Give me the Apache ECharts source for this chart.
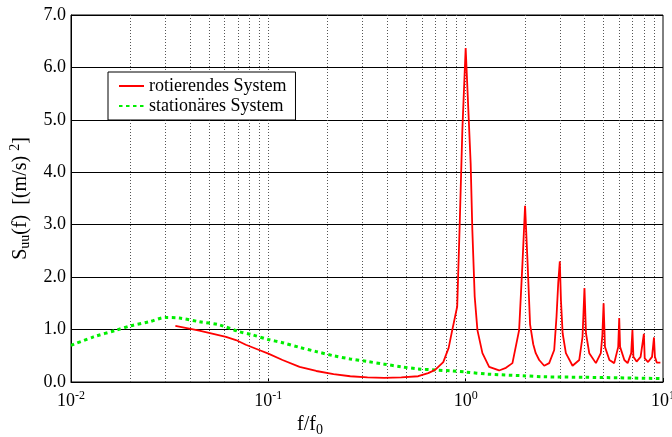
<!DOCTYPE html>
<html>
<head>
<meta charset="utf-8">
<script src="https://cdn.jsdelivr.net/npm/echarts@6.0.0/dist/echarts.min.js"></script>
<style>
  html, body { margin: 0; padding: 0; background: #fff; }
  #chart { width: 672px; height: 437px; }
</style>
</head>
<body>
<div id="chart"></div>
<script>
// rotierendes System (red)
const rotX = [0.0338, 0.0447, 0.061, 0.0685, 0.0769, 0.0898, 0.1, 0.118, 0.144, 0.175, 0.214, 0.26, 0.318, 0.387,
  0.472, 0.575, 0.646, 0.70, 0.77, 0.82, 0.855, 0.906, 0.931, 0.962, 1.0, 1.06, 1.081, 1.111, 1.147, 1.216, 1.315,
  1.477, 1.6, 1.726, 1.866, 1.94, 2.0, 2.06, 2.12, 2.2, 2.265, 2.358, 2.5, 2.65, 2.81, 2.887, 2.944, 3.0, 3.04, 3.1,
  3.22, 3.48, 3.764, 3.91, 4.0, 4.07, 4.23, 4.57, 4.84, 4.93, 5.0, 5.08, 5.35, 5.66, 5.93, 6.0, 6.06, 6.37, 6.62,
  6.9, 7.0, 7.08, 7.35, 7.7, 8.0, 8.08, 8.4, 8.8, 9.0, 9.1, 9.3, 9.7]
const rotY = [1.07, 0.98, 0.86, 0.80, 0.71, 0.61, 0.54, 0.42, 0.29, 0.21, 0.15, 0.11, 0.09, 0.08,
  0.09, 0.11, 0.17, 0.23, 0.38, 0.65, 0.99, 1.44, 2.9, 4.8, 6.37, 4.17, 2.9, 1.63, 0.99, 0.55, 0.29,
  0.22, 0.27, 0.36, 0.99, 2.26, 3.36, 2.26, 1.1, 0.72, 0.55, 0.42, 0.31, 0.36, 0.61, 1.25, 1.88, 2.30, 1.56, 0.93,
  0.55, 0.31, 0.42, 0.86, 1.79, 0.93, 0.55, 0.36, 0.55, 0.9, 1.50, 0.67, 0.42, 0.36, 0.67, 1.22, 0.67, 0.42, 0.36,
  0.55, 0.99, 0.48, 0.39, 0.48, 0.92, 0.45, 0.38, 0.48, 0.85, 0.48, 0.37, 0.37]

// stationaeres System (green)
const staX = [0.01, 0.013, 0.017, 0.02, 0.025, 0.03, 0.0355, 0.0447, 0.0564, 0.0712, 0.083, 0.1, 0.118, 0.144,
  0.175, 0.214, 0.26, 0.318, 0.387, 0.472, 0.575, 0.70, 0.853, 1.0, 1.3, 1.94, 2.5, 4, 6, 10]
const staY = [0.70, 0.86, 0.99, 1.07, 1.15, 1.23, 1.22, 1.15, 1.09, 0.96, 0.90, 0.81, 0.75, 0.66,
  0.58, 0.50, 0.44, 0.39, 0.34, 0.29, 0.25, 0.23, 0.21, 0.19, 0.15, 0.12, 0.10, 0.09, 0.08, 0.065]

// dotted vertical raster lines
const gridX = [0.02, 0.03, 0.04, 0.05, 0.06, 0.07, 0.08, 0.09, 0.1,
  0.2, 0.3, 0.4, 0.5, 0.6, 0.7, 0.8, 0.9, 1,
  2, 3, 4, 5, 6, 7, 8, 9]

const font = 'Liberation Serif'

let chart = echarts.init(document.getElementById('chart'))
chart.setOption({
  animation: false,
  backgroundColor: '#fff',
  textStyle: { fontFamily: font, color: '#000' },
  grid: {
    left: 71, right: 9, top: 15, bottom: 55,
    show: true, borderColor: '#000', borderWidth: 1,
    outerBoundsMode: 'none'
  },
  legend: {
    left: 108, top: 72,
    orient: 'vertical',
    backgroundColor: '#fff',
    borderColor: '#000', borderWidth: 1,
    padding: [5, 9, 5, 10],
    itemWidth: 25, itemHeight: 14, itemGap: 2, itemTextGap: 12,
    itemStyle: { opacity: 0 },
    textStyle: { fontFamily: font, fontSize: 18, color: '#000', lineHeight: 18 },
    data: ['rotierendes System', 'stationäres System']
  },
  xAxis: {
    type: 'log', logBase: 10, min: 0.01, max: 10,
    name: '{m|f/f}{s|0}',
    nameLocation: 'middle', nameGap: 27,
    nameTextStyle: {
      padding: [0, 114, 0, 0],
      rich: {
        m: { fontFamily: font, fontSize: 20, color: '#000', lineHeight: 24 },
        s: { fontFamily: font, fontSize: 14, color: '#000', lineHeight: 4, verticalAlign: 'bottom' }
      }
    },
    axisLine: { lineStyle: { color: '#000', width: 1 } },
    axisTick: { show: true, inside: true, length: 4, lineStyle: { color: '#000' } },
    splitLine: { show: false },
    axisLabel: {
      margin: 8,
      formatter: v => '{b|10}{s|' + Math.round(Math.log10(v)) + '}',
      rich: {
        b: { fontFamily: font, fontSize: 18, color: '#000', lineHeight: 22 },
        s: { fontFamily: font, fontSize: 12, color: '#000', lineHeight: 6, verticalAlign: 'top' }
      }
    }
  },
  yAxis: {
    type: 'value', min: 0, max: 7, interval: 1,
    name: '{m|S}{s|uu}{m|(f)  [(m/s) }{p|2}{m|]}',
    nameLocation: 'middle', nameGap: 30,
    nameTextStyle: {
      rich: {
        m: { fontFamily: font, fontSize: 20, color: '#000', lineHeight: 24 },
        s: { fontFamily: font, fontSize: 14, color: '#000', lineHeight: 4, verticalAlign: 'bottom' },
        p: { fontFamily: font, fontSize: 14, color: '#000', lineHeight: 4, verticalAlign: 'top' }
      }
    },
    axisLine: { show: true, lineStyle: { color: '#000', width: 1 } },
    axisTick: { show: false },
    splitLine: { lineStyle: { color: '#000', width: 1 } },
    axisLabel: {
      margin: 5,
      fontFamily: font, fontSize: 18, color: '#000',
      formatter: v => v.toFixed(1)
    }
  },
  series: [
    {
      name: 'rotierendes System',
      type: 'line',
      symbol: 'none',
      smooth: false,
      z: 4,
      lineStyle: { color: '#ff0000', width: 1.8 },
      itemStyle: { color: '#ff0000' },
      data: rotX.map((x, i) => [x, rotY[i]])
    },
    {
      name: 'stationäres System',
      type: 'line',
      symbol: 'none',
      smooth: 0.3,
      z: 3,
      lineStyle: { color: '#00ee00', width: 3, type: [3.5, 3.5], cap: 'butt' },
      itemStyle: { color: '#00ee00' },
      data: staX.map((x, i) => [x, staY[i]]),
      markLine: {
        silent: true,
        symbol: 'none',
        z: 1,
        animation: false,
        label: { show: false },
        emphasis: { disabled: true },
        lineStyle: { color: '#555', width: 1, type: [1, 2] },
        data: gridX.map(v => ({ xAxis: v }))
      }
    }
  ]
})
</script>
</body>
</html>
